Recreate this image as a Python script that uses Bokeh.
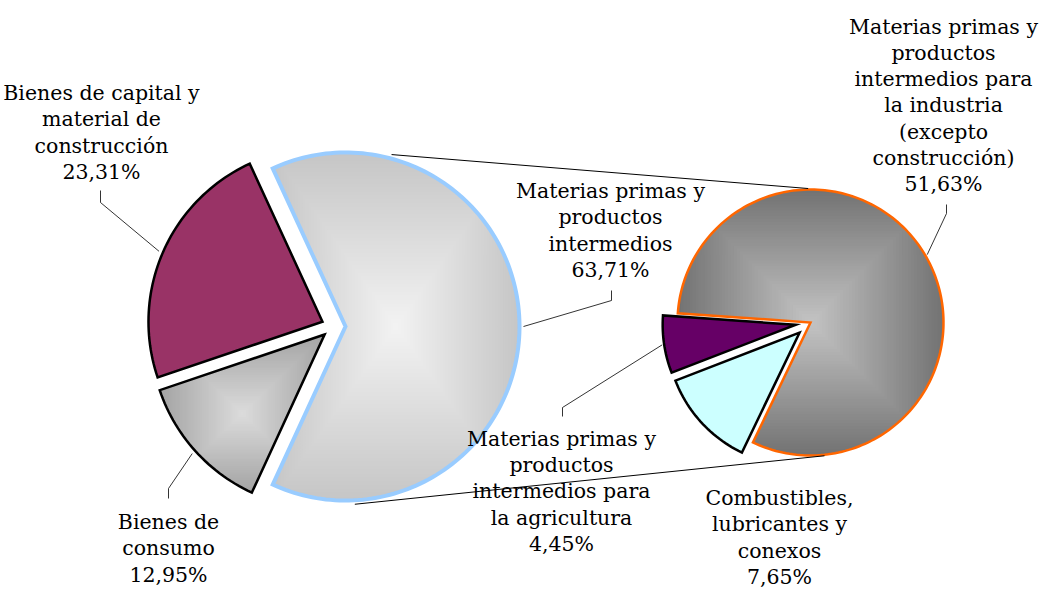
import numpy as np
from bokeh.plotting import figure
from bokeh.models import Range1d
from bokeh.embed import file_html
from bokeh.resources import INLINE
from bokeh.core.properties import value

# ---------------- data ----------------
main_names = ["Materias primas y\nproductos\nintermedios",
              "Bienes de capital y\nmaterial de\nconstrucción",
              "Bienes de\nconsumo"]
main_values = [63.71, 23.31, 12.95]

sub_names = ["Materias primas y\nproductos\nintermedios para\nla agricultura",
             "Combustibles,\nlubricantes y\nconexos",
             "Materias primas y\nproductos\nintermedios para\nla industria\n(excepto\nconstrucción)"]
sub_values = [4.45, 7.65, 51.63]


def fmt(v):
    return f"{v:.2f}".replace(".", ",") + "%"


# ---------------- figure ----------------
W, H = 1041, 592
p = figure(width=W, height=H, x_range=Range1d(0, W), y_range=Range1d(-H, 0),
           output_backend="svg", toolbar_location=None, min_border=0)
p.axis.visible = False
p.grid.visible = False
p.outline_line_color = None
p.background_fill_color = "white"
p.border_fill_color = "white"

FONT = value("DejaVu Serif")


def wedge_poly(cx, cy, r, a0, a1):
    n = max(10, int(abs(a1 - a0) / 1.5))
    t = np.radians(np.linspace(a0, a1, n))
    xs = np.concatenate([[cx], cx + r * np.cos(t)])
    ys = np.concatenate([[cy], cy + r * np.sin(t)])
    return list(xs), list(ys)


def clip_rect(xs, ys, x0, x1, y0, y1):
    pts = list(zip(xs, ys))

    def clip_edge(pts, inside, inter):
        out = []
        if not pts:
            return out
        prev = pts[-1]
        for cur in pts:
            if inside(cur):
                if not inside(prev):
                    out.append(inter(prev, cur))
                out.append(cur)
            elif inside(prev):
                out.append(inter(prev, cur))
            prev = cur
        return out

    def ix(xc):
        def f(a, b):
            t = (xc - a[0]) / (b[0] - a[0])
            return (xc, a[1] + t * (b[1] - a[1]))
        return f

    def iy(yc):
        def f(a, b):
            t = (yc - a[1]) / (b[1] - a[1])
            return (a[0] + t * (b[0] - a[0]), yc)
        return f

    pts = clip_edge(pts, lambda q: q[0] >= x0, ix(x0))
    pts = clip_edge(pts, lambda q: q[0] <= x1, ix(x1))
    pts = clip_edge(pts, lambda q: q[1] >= y0, iy(y0))
    pts = clip_edge(pts, lambda q: q[1] <= y1, iy(y1))
    return [q[0] for q in pts], [q[1] for q in pts]


def hex2rgb(h):
    h = h.lstrip("#")
    return tuple(int(h[i:i + 2], 16) for i in (0, 2, 4))


def mix(c0, c1, t):
    a, b = hex2rgb(c0), hex2rgb(c1)
    return "#%02x%02x%02x" % tuple(int(round(a[i] + (b[i] - a[i]) * t)) for i in range(3))


def draw_slice(xs, ys, fill, line_color, line_width, grad=None, n=45):
    if grad is None:
        p.patch(xs, ys, fill_color=fill, line_color=None)
    else:
        edge, center = grad
        bx0, bx1 = min(xs), max(xs)
        by0, by1 = min(ys), max(ys)
        cx, cy = (bx0 + bx1) / 2, (by0 + by1) / 2
        hw, hh = (bx1 - bx0) / 2, (by1 - by0) / 2
        XS, YS, CS = [], [], []
        for k in range(n):
            s = 1 - k / n
            px, py = clip_rect(xs, ys, cx - s * hw, cx + s * hw, cy - s * hh, cy + s * hh)
            if len(px) >= 3:
                XS.append(px)
                YS.append(py)
                CS.append(mix(edge, center, 1 - s))
        p.patches(XS, YS, fill_color=CS, line_color=None)
    p.patch(xs, ys, fill_color=None, line_color=line_color, line_width=line_width,
            line_join="miter")


# ---------------- main (left) pie ----------------
MC = (333.0, -326.0)
MR = 174.0
M_EXPLODE = 12.0
main_fill = [None, "#993366", None]
main_grad = [("#c6c6c6", "#f3f3f3"), None, ("#a4a4a4", "#dcdcdc")]
main_line = ["#99ccff", "black", "black"]
main_lw = [4.0, 2.5, 2.5]

tot = sum(main_values)
spans = [v / tot * 360.0 for v in main_values]
a = -spans[0] / 2.0
main_geo = []
for i, sp in enumerate(spans):
    a0, a1 = a, a + sp
    mid = np.radians((a0 + a1) / 2)
    cx = MC[0] + M_EXPLODE * np.cos(mid)
    cy = MC[1] + M_EXPLODE * np.sin(mid)
    xs, ys = wedge_poly(cx, cy, MR, a0, a1)
    draw_slice(xs, ys, main_fill[i], main_line[i], main_lw[i], main_grad[i])
    main_geo.append((cx, cy, mid))
    a = a1

# ---------------- secondary (right) pie ----------------
SC = (810.0, -322.0)
SR = 133.0
S_START = 176.0
sub_explode = [15.0, 15.0, 0.0]
sub_fill = ["#660066", "#ccffff", None]
sub_grad = [None, None, ("#737373", "#c4c4c4")]
sub_line = ["black", "black", "#ff6600"]
sub_lw = [2.5, 2.5, 2.5]

stot = sum(sub_values)
a = S_START
sub_geo = []
order = [2, 0, 1]
polys = []
for i, v in enumerate(sub_values):
    sp = v / stot * 360.0
    a0, a1 = a, a + sp
    mid = np.radians((a0 + a1) / 2)
    cx = SC[0] + sub_explode[i] * np.cos(mid)
    cy = SC[1] + sub_explode[i] * np.sin(mid)
    xs, ys = wedge_poly(cx, cy, SR, a0, a1)
    polys.append((xs, ys))
    sub_geo.append((cx, cy, mid))
    a = a1
for i in order:
    xs, ys = polys[i]
    draw_slice(xs, ys, sub_fill[i], sub_line[i], sub_lw[i], sub_grad[i])

# ---------------- series lines between pies ----------------
bc = main_geo[0]
sc = sub_geo[2]
for am, asub in [(75.0, 91.0), (-87.0, -84.0)]:
    x0 = bc[0] + (MR + 4) * np.cos(np.radians(am))
    y0 = bc[1] + (MR + 4) * np.sin(np.radians(am))
    x1 = sc[0] + (SR + 1) * np.cos(np.radians(asub))
    y1 = sc[1] + (SR + 1) * np.sin(np.radians(asub))
    p.line([x0, x1], [y0, y1], line_color="black", line_width=1)

# ---------------- labels & leader lines ----------------
main_label_pos = [(101, -132), (168, -548)]
main_label_pos = [(610, -230)] + main_label_pos
main_leader = [[(611, -300), (611, -290)], [(100, -202), (100, -190)], [(168, -488), (168, -498)]]
sub_label_pos = [(561, -491), (779, -537), (943, -105)]
sub_leader = [[(562, -407), (562, -416)], None, [(946, -213), (946, -204)]]

for geo, r, lead in [(main_geo, MR + 4, main_leader), (sub_geo, SR + 2, sub_leader)]:
    for (cx, cy, mid), ld in zip(geo, lead):
        if ld is None:
            continue
        xs = [cx + r * np.cos(mid)] + [q[0] for q in ld]
        ys = [cy + r * np.sin(mid)] + [q[1] for q in ld]
        p.line(xs, ys, line_color="black", line_width=0.8)

texts = [n + "\n" + fmt(v) for n, v in zip(main_names, main_values)] + \
        [n + "\n" + fmt(v) for n, v in zip(sub_names, sub_values)]
pos = main_label_pos + sub_label_pos
p.text(x=[q[0] for q in pos], y=[q[1] for q in pos], text=texts,
       text_align="center", text_baseline="middle", text_font=FONT,
       text_font_size="20.5px", text_line_height=1.095, text_color="black")

open("out.html", "w").write(file_html(p, INLINE))
